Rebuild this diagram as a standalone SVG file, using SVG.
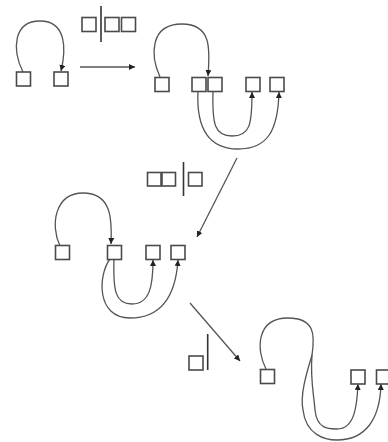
<svg xmlns="http://www.w3.org/2000/svg" width="388" height="442" viewBox="0 0 388 442">
<defs>
<style>
.box{fill:#fff;stroke:#4a4a4a;stroke-width:1.6}
.ln{fill:none;stroke:#555;stroke-width:1.3}
.bar{stroke:#333;stroke-width:1.6}
</style>
<marker id="ah" markerUnits="userSpaceOnUse" markerWidth="7" markerHeight="6" refX="6" refY="3" orient="auto">
<path d="M0,0 L6,3 L0,6 z" fill="#222"/>
</marker>
</defs>
<rect width="388" height="442" fill="#fff"/>
<g id="connectors">
<path class="ln" d="M23,72 C12,50 13,21 40,21 C67,21 66,50 61,71" marker-end="url(#ah)"/>
<line class="ln" x1="80" y1="67" x2="135" y2="67" marker-end="url(#ah)"/>
<path class="ln" d="M160,77 C150,55 150,24 182,24 C212,24 210,50 208,76" marker-end="url(#ah)"/>
<path class="ln" d="M213,91 C212,125 215,136 232,136 C250,136 252,125 252,92" marker-end="url(#ah)"/>
<path class="ln" d="M198,91 C196,130 210,149 238,149 C268,149 278,130 279,92" marker-end="url(#ah)"/>
<line class="ln" x1="237" y1="158" x2="197" y2="237" marker-end="url(#ah)"/>
<path class="ln" d="M60,246 C50,225 55,193 83,193 C112,193 112,220 111,244" marker-end="url(#ah)"/>
<path class="ln" d="M114,259 C113,290 115,304 132,304 C150,304 153,285 153,260" marker-end="url(#ah)"/>
<path class="ln" d="M110,259 C98,275 96,318 130,318 C165,318 176,290 178,260" marker-end="url(#ah)"/>
<line class="ln" x1="190" y1="303" x2="240" y2="361" marker-end="url(#ah)"/>
<path class="ln" d="M266,369 C256,350 256,318 288,318 C315,318 315,335 312,355"/>
<path class="ln" d="M312,355 C310,380 314,395 315,410 C317,430 330,429 337,429 C355,429 357,405 358,384" marker-end="url(#ah)"/>
<path class="ln" d="M312,355 C306,375 300,395 303,410 C306,435 325,440 337,440 C365,440 380,420 381,384" marker-end="url(#ah)"/>
</g>
<g id="label1">
<rect class="box" x="82" y="17.5" width="14" height="14"/>
<line class="bar" x1="101" y1="6" x2="101" y2="42"/>
<rect class="box" x="105" y="17.5" width="14" height="14"/>
<rect class="box" x="121.5" y="17.5" width="14" height="14"/>
</g>
<g id="label2">
<rect class="box" x="147.5" y="172.5" width="13.5" height="13.5"/>
<rect class="box" x="162" y="172.5" width="13.5" height="13.5"/>
<line class="bar" x1="183.5" y1="162" x2="183.5" y2="196"/>
<rect class="box" x="188.5" y="172.5" width="13.5" height="13.5"/>
</g>
<g id="label3">
<rect class="box" x="189" y="356" width="14" height="14"/>
<line class="bar" x1="207.7" y1="334" x2="207.7" y2="370"/>
</g>
<g id="s1a"><rect class="box" x="16.5" y="72" width="14" height="14"/></g>
<g id="s1b"><rect class="box" x="54" y="72" width="14" height="14"/></g>
<g id="s2a"><rect class="box" x="155" y="77.5" width="14" height="14"/></g>
<g id="s2b"><rect class="box" x="192" y="77.5" width="14" height="14"/></g>
<g id="s2c"><rect class="box" x="208" y="77.5" width="14" height="14"/></g>
<g id="s2d"><rect class="box" x="246" y="77.5" width="14" height="14"/></g>
<g id="s2e"><rect class="box" x="270" y="77.5" width="14" height="14"/></g>
<g id="s3a"><rect class="box" x="55.5" y="245.5" width="14" height="14"/></g>
<g id="s3b"><rect class="box" x="107.5" y="245.5" width="14" height="14"/></g>
<g id="s3c"><rect class="box" x="146" y="245.5" width="14" height="14"/></g>
<g id="s3d"><rect class="box" x="171" y="245.5" width="14" height="14"/></g>
<g id="s4a"><rect class="box" x="260.5" y="369.5" width="14" height="14"/></g>
<g id="s4b"><rect class="box" x="351" y="370" width="14" height="14"/></g>
<g id="s4c"><rect class="box" x="376.5" y="370" width="14" height="14"/></g>
</svg>
